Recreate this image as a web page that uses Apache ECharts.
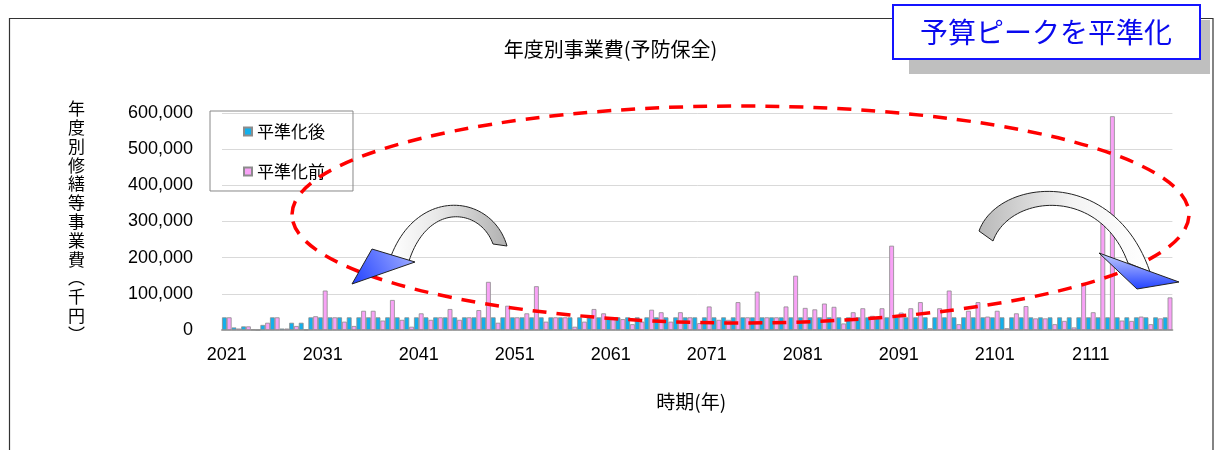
<!DOCTYPE html>
<html>
<head>
<meta charset="utf-8">
<script src="https://cdn.jsdelivr.net/npm/echarts@6/dist/echarts.min.js"></script>
<style>
html,body{margin:0;padding:0;background:#fff;}
#c{width:1221px;height:450px;}
</style>
</head>
<body>
<div id="c"></div>
<script>
// ---- data ----
const startYear = 2021;
const endYear = 2119;
const years = [];
for (let y = startYear; y <= endYear; y++) years.push(String(y));

const seriesNames = ['平準化後', '平準化前'];

// 平準化後 (after leveling), 千円
const afterLeveling = [
  35000, 7000, 10000, 1000, 14000, 35000, 4000, 20000, 20000, 35000,
  35000, 35000, 35000, 35000, 35000, 35000, 35000, 35000, 35000, 35000,
  35000, 35000, 35000, 35000, 35000, 35000, 35000, 35000, 35000, 35000,
  35000, 35000, 35000, 35000, 35000, 35000, 35000, 35000, 35000, 35000,
  35000, 35000, 35000, 35000, 35000, 35000, 35000, 35000, 35000, 35000,
  35000, 35000, 35000, 35000, 35000, 35000, 35000, 35000, 35000, 35000,
  35000, 35000, 35000, 35000, 35000, 35000, 35000, 35000, 35000, 35000,
  35000, 35000, 35000, 35000, 35000, 35000, 35000, 35000, 35000, 35000,
  35000, 35000, 35000, 35000, 35000, 35000, 35000, 35000, 35000, 35000,
  35000, 35000, 35000, 35000, 35000, 35000, 35000, 35000, 35000
];

// 平準化前 (before leveling), 千円
const beforeLeveling = [
  35000, 4000, 10000, 0, 20000, 35000, 4000, 11000, 1000, 38000,
  109000, 35000, 23000, 11000, 53000, 53000, 26000, 83000, 28000, 9000,
  46000, 28000, 35000, 58000, 28000, 35000, 55000, 133000, 20000, 67000,
  35000, 46000, 121000, 23000, 35000, 35000, 9000, 23000, 58000, 46000,
  35000, 30000, 16000, 23000, 56000, 49000, 23000, 49000, 35000, 19000,
  65000, 28000, 28000, 77000, 35000, 106000, 35000, 35000, 65000, 150000,
  61000, 57000, 73000, 64000, 18000, 49000, 60000, 39000, 60000, 233000,
  48000, 60000, 77000, 5000, 60000, 109000, 16000, 53000, 77000, 37000,
  53000, 5000, 46000, 66000, 32000, 32000, 16000, 25000, 7000, 127000,
  49000, 320000, 591000, 26000, 25000, 37000, 16000, 32000, 90000
];

const yTicks = { min: 0, max: 600000, interval: 100000 };
const titleText = '年度別事業費(予防保全)';
const yAxisTitle = ['年','度','別','修','繕','等','事','業','費','︵','千','円','︶'];
const xAxisTitle = '時期(年)';
const bannerText = '予算ピークを平準化';

// ---- helpers for decorative shapes ----
function cubic(p0, p1, p2, p3, n) {
  const pts = [];
  for (let i = 0; i <= n; i++) {
    const t = i / n, u = 1 - t;
    pts.push([
      u*u*u*p0[0] + 3*u*u*t*p1[0] + 3*u*t*t*p2[0] + t*t*t*p3[0],
      u*u*u*p0[1] + 3*u*u*t*p1[1] + 3*u*t*t*p2[1] + t*t*t*p3[1]
    ]);
  }
  return pts;
}
function band(outer, inner) {
  return outer.concat(inner.slice().reverse());
}

const jpFont = "'Noto Sans CJK JP', sans-serif";
const numFont = "'Liberation Sans', 'Noto Sans CJK JP', sans-serif";

// right arrow
const rOuter = cubic([979, 231], [998, 178], [1114, 166], [1150, 272], 48);
const rInner = cubic([993, 241], [1010, 194], [1100, 186], [1128, 263], 48);
// left arrow
const lOuter = cubic([507, 246], [492, 194], [418, 186], [391, 256], 48);
const lInner = cubic([493, 244], [480, 208], [428, 202], [409, 261], 48);

const chart = echarts.init(document.getElementById('c'), null, { renderer: 'canvas' });

const option = {
  backgroundColor: '#fff',
  animation: false,
  title: {
    text: titleText,
    left: 'center',
    top: 34,
    textStyle: { fontFamily: jpFont, fontSize: 20, fontWeight: 'normal', color: '#000' }
  },
  legend: {
    data: seriesNames,
    orient: 'vertical',
    left: 210,
    top: 111,
    itemWidth: 8,
    itemHeight: 8,
    itemGap: 23,
    padding: [12, 28, 11, 33],
    borderColor: '#888',
    borderWidth: 1,
    icon: 'rect',
    textStyle: { fontFamily: jpFont, fontSize: 17, color: '#000' }
  },
  grid: { left: 222, top: 113, width: 950.4, height: 217 },
  xAxis: {
    type: 'category',
    data: years,
    name: xAxisTitle,
    nameLocation: 'middle',
    nameGap: 62,
    nameTextStyle: { fontFamily: jpFont, fontSize: 19, color: '#000', padding: [0, 12, 0, 0] },
    axisLine: { lineStyle: { color: '#a6a6a6', width: 2 } },
    axisTick: { show: false },
    axisLabel: { interval: 9, fontFamily: numFont, fontSize: 18, color: '#000', margin: 16 },
    splitLine: { show: false }
  },
  yAxis: {
    type: 'value',
    min: yTicks.min,
    max: yTicks.max,
    interval: yTicks.interval,
    name: yAxisTitle.join('\n'),
    nameLocation: 'middle',
    nameRotate: 0,
    nameGap: 137,
    nameTextStyle: { fontFamily: jpFont, fontSize: 17, lineHeight: 18.8, color: '#000' },
    axisLine: { show: false },
    axisTick: { show: false },
    axisLabel: {
      fontFamily: numFont, fontSize: 18, color: '#000', margin: 29,
      formatter: v => v.toLocaleString('en-US')
    },
    splitLine: { lineStyle: { color: '#d9d9d9', width: 1 } }
  },
  series: [
    {
      name: seriesNames[0],
      type: 'bar',
      data: afterLeveling,
      barGap: '0%',
      barCategoryGap: '0%',
      itemStyle: { color: '#12b0ec', borderColor: '#8c8c8c', borderWidth: 0.8 }
    },
    {
      name: seriesNames[1],
      type: 'bar',
      data: beforeLeveling,
      barGap: '0%',
      barCategoryGap: '0%',
      itemStyle: { color: '#f8a2f6', borderColor: '#8c8c8c', borderWidth: 0.8 }
    }
  ],
  graphic: [
    { type: 'rect', z: -10, silent: true,
      shape: { x: 9.5, y: 18.5, width: 1203.5, height: 470 },
      style: { fill: 'none', stroke: '#333', lineWidth: 1.2 } },
    { type: 'rect', z: 50, silent: true,
      shape: { x: 909, y: 20, width: 301, height: 54 },
      style: { fill: '#bfbfbf' } },
    { type: 'rect', z: 51, silent: true,
      shape: { x: 893, y: 5, width: 307, height: 54 },
      style: { fill: '#fff', stroke: '#1414ff', lineWidth: 2 } },
    { type: 'text', z: 52, silent: true,
      x: 1046, y: 32,
      style: { text: bannerText, fontFamily: jpFont, fontSize: 28, fill: '#0a0aee',
               textAlign: 'center', textVerticalAlign: 'middle' } },
    { type: 'ellipse', z: 40, silent: true,
      shape: { cx: 740.5, cy: 214.5, rx: 448.5, ry: 108.5 },
      style: { fill: 'none', stroke: '#ff0000', lineWidth: 3.5, lineDash: [14, 10] } },
    // right arrow body
    { type: 'polygon', z: 45, silent: true,
      shape: { points: band(rOuter, rInner) },
      style: { stroke: '#222', lineWidth: 1,
               fill: { type: 'linear', x: 0, y: 0, x2: 1, y2: 0,
                       colorStops: [{ offset: 0, color: '#b8b8b8' }, { offset: 0.55, color: '#f4f4f4' }, { offset: 1, color: '#ffffff' }] } } },
    // right arrow head
    { type: 'polygon', z: 46, silent: true,
      shape: { points: [[1099, 253], [1179, 282], [1137, 289]] },
      style: { stroke: '#222', lineWidth: 1,
               fill: { type: 'linear', x: 0, y: 0, x2: 0, y2: 1,
                       colorStops: [{ offset: 0, color: '#c8d0ff' }, { offset: 1, color: '#2040ff' }] } } },
    // left arrow body
    { type: 'polygon', z: 45, silent: true,
      shape: { points: band(lOuter, lInner) },
      style: { stroke: '#222', lineWidth: 1,
               fill: { type: 'linear', x: 1, y: 0, x2: 0, y2: 0,
                       colorStops: [{ offset: 0, color: '#b0b0b0' }, { offset: 0.6, color: '#e8e8e8' }, { offset: 1, color: '#ffffff' }] } } },
    // left arrow head
    { type: 'polygon', z: 46, silent: true,
      shape: { points: [[372, 249], [415, 262], [352, 284]] },
      style: { stroke: '#222', lineWidth: 1,
               fill: { type: 'linear', x: 1, y: 0, x2: 0, y2: 1,
                       colorStops: [{ offset: 0, color: '#a8b4ff' }, { offset: 1, color: '#2040ff' }] } } }
  ]
};

chart.setOption(option);
</script>
</body>
</html>
